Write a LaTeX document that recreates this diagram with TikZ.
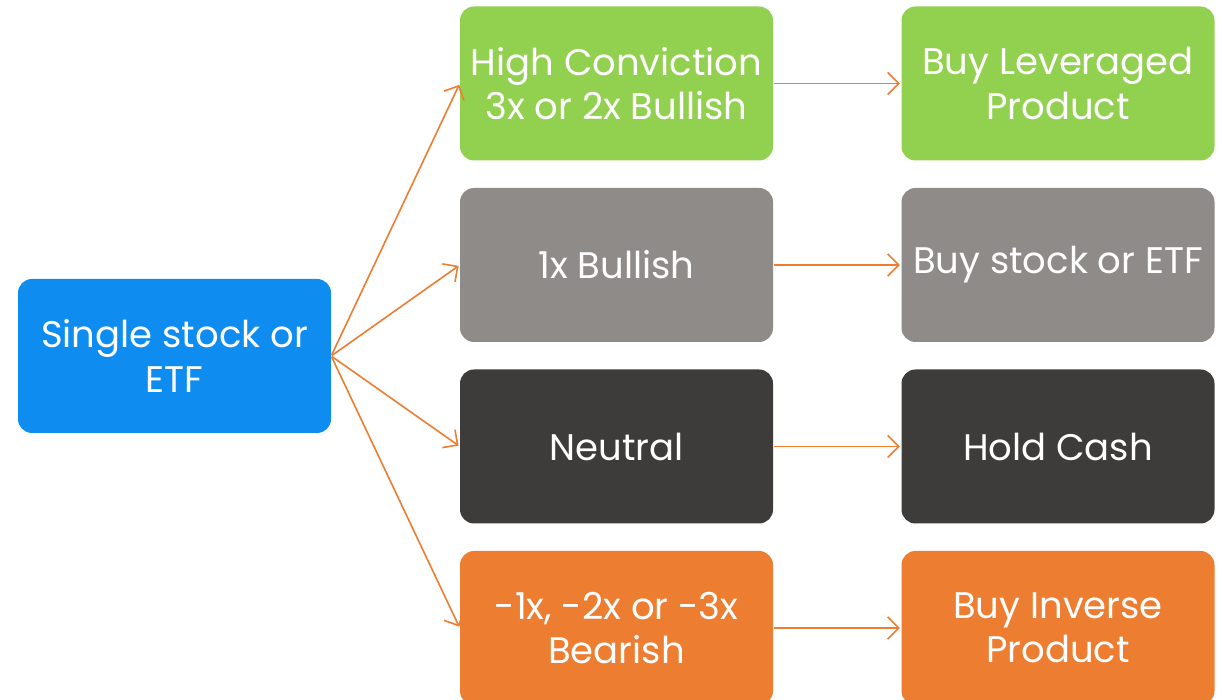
\documentclass[tikz,border=0pt]{standalone}
\usepackage{fontspec}
\setmainfont{Poppins}
\usetikzlibrary{arrows.meta}
\definecolor{cblue}{HTML}{0E8CF0}
\definecolor{cgreen}{HTML}{92D050}
\definecolor{cgray}{HTML}{8F8B89}
\definecolor{cdark}{HTML}{3D3C3B}
\definecolor{corange}{HTML}{ED7D31}
\begin{document}
\begin{tikzpicture}[x=1pt,y=1pt,
 box/.style={rounded corners=14pt, minimum width=313pt, minimum height=154pt, inner sep=0pt, text=white, align=center, font=\fontsize{37}{44.5}\selectfont},
 conn/.style={draw=corange, line width=1.6pt, shorten >=1.5pt, shorten <=1pt, -{Straight Barb[length=11pt,width=22pt,line width=1.6pt]}}]
\useasboundingbox (0,0) rectangle (1222,700);
\node[box, fill=cblue] (L) at (174.5,344) {Single stock or\\ETF};
\node[box, fill=cgreen] (M1) at (616.5,616.5) {High Conviction\\3x or 2x Bullish};
\node[box, fill=cgray] (M2) at (616.5,435) {1x Bullish};
\node[box, fill=cdark] (M3) at (616.5,253.5) {Neutral};
\node[box, fill=corange] (M4) at (616.5,72) {-1x, -2x or -3x\\Bearish};
\node[box, fill=cgreen] (R1) at (1058,616.5) {Buy Leveraged\\Product};
\node[box, fill=cgray] (R2) at (1058,435) {Buy stock or ETF};
\node[box, fill=cdark] (R3) at (1058,253.5) {Hold Cash};
\node[box, fill=corange] (R4) at (1058,72) {Buy Inverse\\Product};
\foreach \i in {1,2,3,4} {
  \draw[conn] (L.east) -- (M\i.west);
  \draw[conn] (M\i.east) -- (R\i.west);
}
\end{tikzpicture}
\end{document}
